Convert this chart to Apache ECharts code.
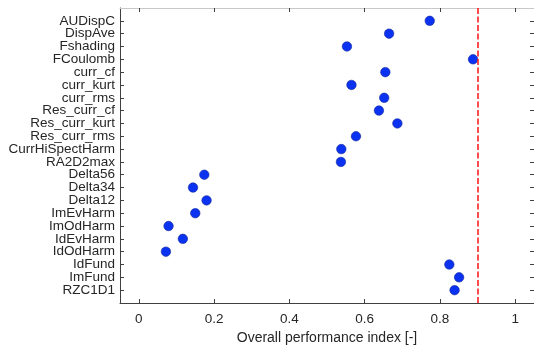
<!DOCTYPE html>
<html>
<head>
<meta charset="utf-8">
<script src="https://cdn.jsdelivr.net/npm/echarts@6/dist/echarts.min.js"></script>
<style>
  html, body { margin: 0; padding: 0; background: #fff; }
  #chart { width: 534px; height: 350px; }
</style>
</head>
<body>
<div id="chart"></div>
<script>
// Feature names, top to bottom
const features = [
  'AUDispC', 'DispAve', 'Fshading', 'FCoulomb', 'curr_cf', 'curr_kurt',
  'curr_rms', 'Res_curr_cf', 'Res_curr_kurt', 'Res_curr_rms',
  'CurrHiSpectHarm', 'RA2D2max', 'Delta56', 'Delta34', 'Delta12',
  'ImEvHarm', 'ImOdHarm', 'IdEvHarm', 'IdOdHarm', 'IdFund', 'ImFund', 'RZC1D1'
];

// Overall performance index per feature
const performance = [
  0.773, 0.665, 0.553, 0.888, 0.655, 0.565,
  0.652, 0.638, 0.687, 0.577,
  0.538, 0.537, 0.174, 0.144, 0.180,
  0.150, 0.079, 0.117, 0.072, 0.825, 0.851, 0.839
];

// Selection threshold
const threshold = 0.9;

// Axis tick values
const xTicks = [0, 0.2, 0.4, 0.6, 0.8, 1];
const yTicks = features.map((_, i) => i);
// Labels are split over two stacked left axes so that neighbouring
// names never get culled by the overlap check.
const yTicksEven = yTicks.filter(i => i % 2 === 0);
const yTicksOdd = yTicks.filter(i => i % 2 === 1);

const points = performance.map((v, i) => [v, i]);

const font = '"Liberation Sans", Arial, Helvetica, sans-serif';
const axisColor = '#404040';
const textColor = '#262626';

const chart = echarts.init(document.getElementById('chart'), null, { renderer: 'canvas' });

const n = features.length;
const yMin = -1;
const yMax = n;

const yLabelStyle = {
  show: true, margin: 5,
  showMinLabel: true, showMaxLabel: true, hideOverlap: false,
  color: textColor, fontFamily: font, fontSize: 13.5,
  formatter: v => features[Math.round(v)] || ''
};

chart.setOption({
  animation: false,
  backgroundColor: '#ffffff',
  grid: { left: 120, top: 8, right: -2, bottom: 47, containLabel: false },
  xAxis: [
    {
      type: 'value', position: 'bottom', min: -0.05, max: 1.05,
      axisLine: { show: true, onZero: false, lineStyle: { color: axisColor, width: 1 } },
      axisTick: { show: true, inside: true, length: 4, customValues: xTicks, lineStyle: { color: axisColor } },
      axisLabel: {
        show: true, customValues: xTicks, margin: 9,
        showMinLabel: true, showMaxLabel: true, hideOverlap: false,
        color: textColor, fontFamily: font, fontSize: 13.5,
        formatter: v => String(Math.round(v * 10) / 10)
      },
      splitLine: { show: false },
      name: 'Overall performance index [-]',
      nameLocation: 'middle', nameGap: 27,
      nameTextStyle: { color: textColor, fontFamily: font, fontSize: 14 }
    },
    {
      type: 'value', position: 'top', min: -0.05, max: 1.05,
      axisLine: { show: true, onZero: false, lineStyle: { color: '#c8c8c8', width: 1 } },
      axisTick: { show: true, inside: true, length: 4, customValues: xTicks, lineStyle: { color: axisColor } },
      axisLabel: { show: false },
      splitLine: { show: false }
    }
  ],
  yAxis: [
    {
      type: 'value', inverse: true, position: 'left', min: yMin, max: yMax,
      axisLine: { show: true, onZero: false, lineStyle: { color: axisColor, width: 1 } },
      axisTick: { show: true, inside: true, length: 4, customValues: yTicks, lineStyle: { color: axisColor } },
      axisLabel: Object.assign({ customValues: yTicksEven }, yLabelStyle),
      splitLine: { show: false }
    },
    {
      type: 'value', inverse: true, position: 'left', offset: 0, min: yMin, max: yMax,
      axisLine: { show: false, onZero: false },
      axisTick: { show: false },
      axisLabel: Object.assign({ customValues: yTicksOdd }, yLabelStyle),
      splitLine: { show: false }
    },
    {
      type: 'value', inverse: true, position: 'right', min: yMin, max: yMax,
      axisLine: { show: true, onZero: false, lineStyle: { color: '#c8c8c8', width: 1 } },
      axisTick: { show: true, inside: true, length: 4, customValues: yTicks, lineStyle: { color: axisColor } },
      axisLabel: { show: false },
      splitLine: { show: false }
    }
  ],
  series: [
    {
      type: 'scatter',
      xAxisIndex: 0, yAxisIndex: 0,
      data: points,
      symbol: 'circle',
      symbolSize: 9.5,
      itemStyle: { color: '#0a32f0', borderColor: '#1a2a9a', borderWidth: 0.6, opacity: 1 },
      z: 3,
      markLine: {
        silent: true,
        symbol: 'none',
        label: { show: false },
        lineStyle: { color: '#ff2020', type: [6, 2.5], width: 1.6 },
        data: [{ xAxis: threshold }],
        z: 4
      }
    }
  ]
});
</script>
</body>
</html>
